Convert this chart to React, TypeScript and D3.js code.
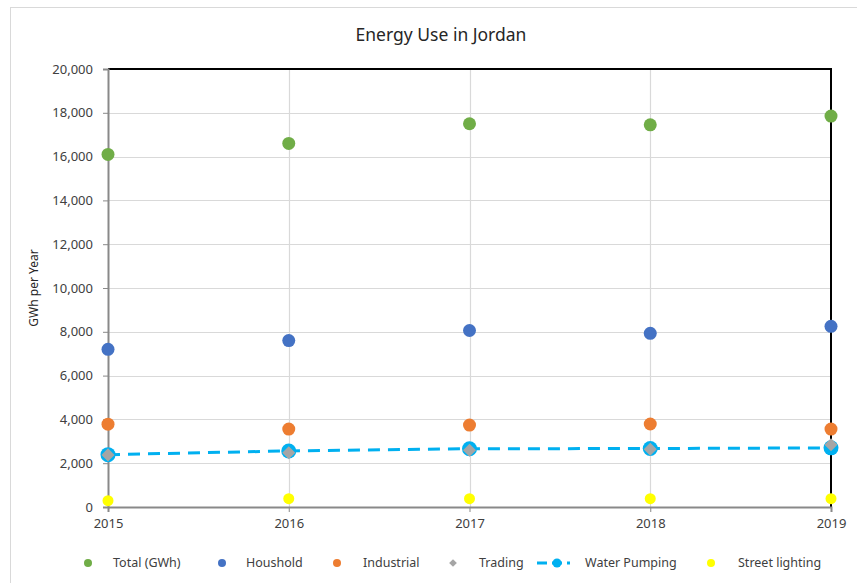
import { useEffect, useRef } from "react";
import * as d3 from "d3";

const years = [2015, 2016, 2017, 2018, 2019];
const yTicks = [0, 2000, 4000, 6000, 8000, 10000, 12000, 14000, 16000, 18000, 20000];

const total = [16100, 16600, 17500, 17450, 17850];
const household = [7200, 7600, 8060, 7930, 8250];
const industrial = [3780, 3560, 3740, 3790, 3560];
const trading = [2380, 2480, 2590, 2640, 2840];
const waterPumping = [2390, 2560, 2660, 2670, 2700];
const streetLighting = [290, 380, 380, 380, 380];

const FONT = "'Noto Sans', 'Open Sans', sans-serif";

const W = 857;
const H = 583;

export default function App() {
  const svgRef = useRef<SVGSVGElement | null>(null);

  useEffect(() => {
    if (!svgRef.current) return;
    const svg = d3.select(svgRef.current);
    svg.selectAll("*").remove();

    const margin = { left: 108, right: W - 831, top: 69, bottom: H - 507 };

    const x = d3
      .scaleLinear()
      .domain([2015, 2019])
      .range([margin.left, W - margin.right]);
    const y = d3
      .scaleLinear()
      .domain([0, 20000])
      .range([H - margin.bottom, margin.top]);

    // outer chart frame
    svg
      .append("rect")
      .attr("x", 10.5)
      .attr("y", 7.5)
      .attr("width", W + 20)
      .attr("height", H + 20)
      .attr("fill", "#fff")
      .attr("stroke", "#d9d9d9");

    // title
    svg
      .append("text")
      .attr("x", 441)
      .attr("y", 41)
      .attr("text-anchor", "middle")
      .attr("font-family", FONT)
      .attr("font-size", 17.5)
      .attr("fill", "#262626")
      .text("Energy Use in Jordan");

    // grid
    const grid = svg.append("g");
    grid
      .selectAll("line.h")
      .data(yTicks.slice(1, -1))
      .join("line")
      .attr("x1", x(2015))
      .attr("x2", x(2019))
      .attr("y1", (d) => Math.round(y(d)) + 0.5)
      .attr("y2", (d) => Math.round(y(d)) + 0.5)
      .attr("stroke", "#d9d9d9")
      .attr("stroke-width", 1.2);
    grid
      .selectAll("line.v")
      .data(years.slice(1, -1))
      .join("line")
      .attr("x1", (d) => Math.round(x(d)) + 0.5)
      .attr("x2", (d) => Math.round(x(d)) + 0.5)
      .attr("y1", y(0))
      .attr("y2", y(20000))
      .attr("stroke", "#d9d9d9")
      .attr("stroke-width", 1.2);

    // black top and right border
    svg
      .append("path")
      .attr("d", `M${x(2015)},${y(20000)}H${x(2019)}V${y(0)}`)
      .attr("fill", "none")
      .attr("stroke", "#000")
      .attr("stroke-width", 2);

    // axes
    const yAxis = svg
      .append("g")
      .attr("transform", `translate(${x(2015)},0)`)
      .call(
        d3
          .axisLeft(y)
          .tickValues(yTicks)
          .tickSize(5)
          .tickPadding(10)
          .tickFormat((d) => d3.format(",")(d as number))
      );
    yAxis.select(".domain").attr("stroke", "#898989").attr("stroke-width", 2);
    yAxis.selectAll(".tick line").attr("stroke", "#898989");
    yAxis
      .selectAll("text")
      .attr("font-family", FONT)
      .attr("font-size", 13)
      .attr("fill", "#404040");

    const xAxis = svg
      .append("g")
      .attr("transform", `translate(0,${y(0)})`)
      .call(
        d3
          .axisBottom(x)
          .tickValues(years)
          .tickSize(5)
          .tickPadding(7)
          .tickFormat((d) => String(d))
      );
    xAxis.select(".domain").attr("stroke", "#898989").attr("stroke-width", 2);
    xAxis.selectAll(".tick line").attr("stroke", "#898989");
    xAxis
      .selectAll("text")
      .attr("font-family", FONT)
      .attr("font-size", 13)
      .attr("fill", "#404040");

    // y label
    svg
      .append("text")
      .attr("transform", `translate(38,${(y(0) + y(20000)) / 2}) rotate(-90)`)
      .attr("text-anchor", "middle")
      .attr("font-family", FONT)
      .attr("font-size", 12)
      .attr("fill", "#262626")
      .text("GWh per Year");

    const dots = (vals: number[], color: string, r: number) => {
      svg
        .append("g")
        .selectAll("circle")
        .data(vals)
        .join("circle")
        .attr("cx", (_, i) => x(years[i]))
        .attr("cy", (d) => y(d))
        .attr("r", r)
        .attr("fill", color);
    };

    dots(total, "#70ad47", 6.5);
    dots(household, "#4472c4", 6.5);
    dots(industrial, "#ed7d31", 6.5);

    // water pumping line
    const line = d3
      .line<number>()
      .x((_, i) => x(years[i]))
      .y((d) => y(d));
    svg
      .append("path")
      .datum(waterPumping)
      .attr("d", line)
      .attr("fill", "none")
      .attr("stroke", "#00b0f0")
      .attr("stroke-width", 3)
      .attr("stroke-dasharray", "12 8");
    dots(waterPumping, "#00b0f0", 7.5);

    // trading: square diamonds (square rotated 45deg)
    const diamond = d3.symbol().type(d3.symbolSquare).size(85);
    svg
      .append("g")
      .selectAll("path")
      .data(trading)
      .join("path")
      .attr("transform", (d, i) => `translate(${x(years[i])},${y(d)}) rotate(45)`)
      .attr("d", diamond)
      .attr("fill", "#a5a5a5");

    dots(streetLighting, "#ffff00", 5.5);

    // legend
    const ly = 563;
    const legend = svg
      .append("g")
      .attr("font-family", FONT)
      .attr("font-size", 12.5)
      .attr("fill", "#404040");
    const items = [
      { name: "Total (GWh)", color: "#70ad47", mx: 88, tx: 113, kind: "dot" },
      { name: "Houshold", color: "#4472c4", mx: 222, tx: 246, kind: "dot" },
      { name: "Industrial", color: "#ed7d31", mx: 337, tx: 363, kind: "dot" },
      { name: "Trading", color: "#a5a5a5", mx: 453, tx: 479, kind: "diamond" },
      { name: "Water Pumping", color: "#00b0f0", mx: 557, tx: 585, kind: "line" },
      { name: "Street lighting", color: "#ffff00", mx: 711, tx: 738, kind: "dot" },
    ];
    items.forEach((it) => {
      if (it.kind === "dot") {
        legend.append("circle").attr("cx", it.mx).attr("cy", ly).attr("r", 4).attr("fill", it.color);
      } else if (it.kind === "diamond") {
        legend
          .append("path")
          .attr("transform", `translate(${it.mx},${ly}) rotate(45)`)
          .attr("d", d3.symbol().type(d3.symbolSquare).size(30)())
          .attr("fill", it.color);
      } else {
        legend
          .append("line")
          .attr("x1", it.mx - 20)
          .attr("x2", it.mx + 13)
          .attr("y1", ly)
          .attr("y2", ly)
          .attr("stroke", it.color)
          .attr("stroke-width", 3)
          .attr("stroke-dasharray", "10 5");
        legend.append("circle").attr("cx", it.mx).attr("cy", ly).attr("r", 4.5).attr("fill", it.color);
      }
      legend
        .append("text")
        .attr("x", it.tx)
        .attr("y", ly)
        .attr("dy", "0.35em")
        .text(it.name);
    });
  }, []);

  return (
    <svg
      ref={svgRef}
      width={W}
      height={H}
      style={{ position: "absolute", left: 0, top: 0, background: "#fff" }}
    />
  );
}
